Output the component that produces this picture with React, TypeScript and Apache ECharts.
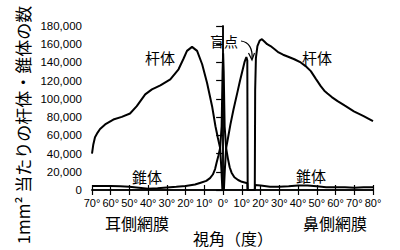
import React, { useEffect, useRef } from "react";
import * as echarts from "echarts";

// angle (deg, negative = temporal), density per mm^2
const rodData: [number, number][] = [
  [-70, 40000], [-69.3, 50000], [-68.4, 58000], [-67, 63000], [-65.7, 67000], [-63, 72000],
  [-58.6, 77300], [-54.1, 80300], [-49.7, 84000], [-46.1, 92000], [-41.6, 105000], [-38, 110400],
  [-33.5, 114800], [-28.2, 121500], [-23.8, 132500], [-21.1, 144300], [-19.3, 152700], [-16.6, 157100],
  [-13.9, 152700], [-11.2, 138000], [-8.6, 117800], [-5.9, 92000], [-4.1, 70000], [-2.8, 57000],
  [-1.6, 46000], [-0.9, 22000], [-0.4, 0], [0.4, 0], [0.9, 22000], [1.6, 46000], [2.5, 56000],
  [3.9, 72000], [5.5, 88000], [7.7, 108000], [9, 120000], [10.3, 131000], [11.5, 141000],
  [12.4, 146000], [12.9, 142000], [13.1, 0], [16.9, 0], [17.1, 110000], [17.5, 145000],
  [18.3, 158000], [19.5, 164000], [20.7, 165500], [22, 163000], [23.5, 160000], [25.3, 158000],
  [27.5, 154500], [29.6, 151000], [32, 148500], [34.4, 146500], [38, 143500], [41.4, 140000],
  [44, 136000], [46.8, 130500], [49.5, 122000], [52.1, 114000], [54, 109000], [55.7, 106000],
  [58, 102000], [61.1, 97500], [65, 92500], [69.8, 86400], [75, 81000], [80, 75500],
];

const coneData: [number, number][] = [
  [-70, 4500], [-65, 4500], [-60, 4500], [-55, 4000], [-50, 3500], [-45, 2500], [-40, 1500],
  [-35, 2000], [-30, 2800], [-25, 3500], [-20, 4500], [-15, 6000], [-12, 8000], [-9, 10000],
  [-7, 13000], [-5.5, 17000], [-4.3, 23000], [-3.5, 30000], [-2.5, 38000], [-1.6, 46000],
  [-0.8, 70000], [-0.3, 130000], [0, 150000], [0.3, 130000], [0.8, 70000], [1.6, 46000],
  [2.5, 35000], [3.5, 25000], [4.5, 19000], [6, 14000], [8, 11000], [10, 9000], [12, 8000],
  [12.9, 7500], [13.1, 0], [16.9, 0], [17.1, 5500], [20, 5000], [25, 3500], [30, 3500],
  [35, 4000], [40, 5000], [45, 5000], [50, 4000], [55, 3000], [60, 3000], [65, 3000],
  [70, 2500], [75, 3000], [80, 3000],
];

const xMin = -70;
const xMax = 80;
const xStep = 10;
const yMax = 180000;
const yStep = 20000;

const yAxisTitle = "1mm² 当たりの杆体・錐体の数";
const rodLabel = "杆体";
const coneLabel = "錐体";
const blindSpotLabel = "盲点";
const temporalLabel = "耳側網膜";
const nasalLabel = "鼻側網膜";
const xAxisTitle = "視角（度）";

const numFont = "'Liberation Sans', Arial, sans-serif";
const cjkFont = "'Noto Sans CJK JP', sans-serif";

export default function App() {
  const ref = useRef<HTMLDivElement>(null);
  useEffect(() => {
    document.body.style.margin = "0";
    if (!ref.current) return;
    const chart = echarts.init(ref.current, undefined, { renderer: "svg" });
    const axisLine = { show: true, lineStyle: { color: "#000", width: 1.5 } };
    const txt = (text: string, x: number, y: number, size: number, extra: any = {}) => ({
      type: "text",
      x,
      y,
      style: {
        text,
        fill: "#000",
        font: `${size}px ${cjkFont}`,
        textAlign: "center",
        textVerticalAlign: "middle",
      },
      ...extra,
    });
    chart.setOption({
      animation: false,
      backgroundColor: "#fff",
      grid: { left: 92, right: 27, top: 26, bottom: 60 },
      xAxis: [
        {
          type: "value",
          min: xMin,
          max: xMax,
          interval: xStep,
          position: "bottom",
          axisLine,
          axisTick: { show: true, inside: true, length: 5, lineStyle: { color: "#000", width: 1.2 } },
          axisLabel: {
            formatter: (v: number) => Math.abs(v) + "°",
            color: "#000",
            fontSize: 11,
            fontFamily: numFont,
            margin: 7,
          },
          splitLine: { show: false },
        },
        {
          type: "value",
          min: xMin,
          max: xMax,
          interval: xStep,
          position: "top",
          axisLine,
          axisTick: { show: true, inside: true, length: 5, lineStyle: { color: "#000", width: 1.2 } },
          axisLabel: { show: false },
          splitLine: { show: false },
        },
      ],
      yAxis: [
        {
          type: "value",
          min: 0,
          max: yMax,
          interval: yStep,
          position: "left",
          axisLine,
          axisTick: { show: true, length: 7, lineStyle: { color: "#000", width: 1.2 } },
          axisLabel: {
            formatter: (v: number) => v.toLocaleString("en-US"),
            color: "#000",
            fontSize: 11.5,
            fontFamily: numFont,
            margin: 10,
          },
          splitLine: { show: false },
        },
        {
          type: "value",
          min: 0,
          max: yMax,
          interval: yStep,
          position: "right",
          axisLine,
          axisTick: { show: false },
          axisLabel: { show: false },
          splitLine: { show: false },
        },
      ],
      series: [
        {
          name: rodLabel,
          type: "line",
          data: rodData,
          symbol: "none",
          lineStyle: { color: "#000", width: 2 },
        },
        {
          name: coneLabel,
          type: "line",
          data: coneData,
          symbol: "none",
          lineStyle: { color: "#000", width: 2 },
        },
      ],
      graphic: [
        txt(yAxisTitle, 22, 125, 17, { rotation: Math.PI / 2 }),
        txt(rodLabel, 160, 57, 15),
        txt(rodLabel, 317, 57, 15),
        txt(coneLabel, 147, 176, 15),
        txt(coneLabel, 311, 175, 15),
        txt(blindSpotLabel, 224, 41, 14),
        txt(temporalLabel, 137, 223, 16),
        txt(nasalLabel, 335, 223, 16),
        txt(xAxisTitle, 233, 238, 16),
        {
          type: "bezierCurve",
          shape: { x1: 241, y1: 41, x2: 252, y2: 59, cpx1: 249, cpy1: 42, cpx2: 253, cpy2: 49 },
          style: { stroke: "#000", lineWidth: 1.2, fill: "none" },
        },
        {
          type: "polyline",
          shape: { points: [[248.5, 53], [252, 60], [254.5, 53]] },
          style: { stroke: "#000", lineWidth: 1.2, fill: "none" },
        },
      ],
    });
    return () => chart.dispose();
  }, []);
  return <div ref={ref} style={{ width: 400, height: 250 }} />;
}
